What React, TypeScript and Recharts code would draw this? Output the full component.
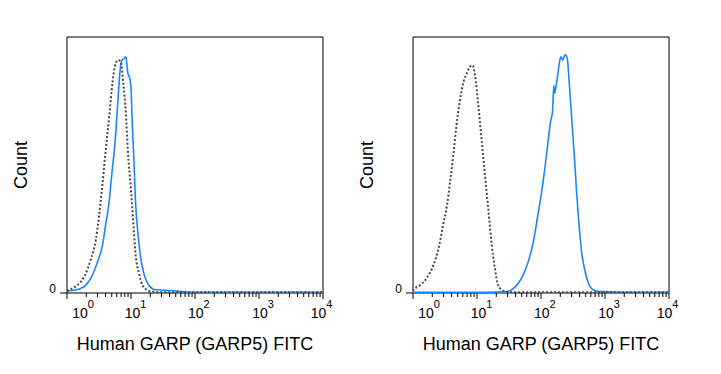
import { LineChart, Line, XAxis, YAxis, ReferenceArea } from "recharts";

const font = '"Liberation Sans", Arial, sans-serif';

const xTitle = "Human GARP (GARP5) FITC";
const yTitle = "Count";
const decades = [0, 1, 2, 3, 4];
const exponents = ["0", "1", "2", "3", "4"];
// nudge so the first/last labels stay inside like the original
const labelShift = [13, 1.5, 0.7, 1, -4.5];

// [log10 FITC, % of max]
const leftIsotype = [
  [0, 0.8], [0.03, 1.2], [0.1, 2.0], [0.16, 3], [0.22, 4.5], [0.27, 6.4], [0.32, 9.3],
  [0.37, 13], [0.45, 20.7], [0.5, 30], [0.55, 41.5], [0.6, 54.6], [0.66, 69], [0.71, 82],
  [0.76, 89.7], [0.8, 91], [0.84, 90.4], [0.88, 82], [0.92, 70], [0.95, 56], [1.0, 40],
  [1.04, 26], [1.07, 15.5], [1.125, 7.7], [1.18, 3], [1.25, 1.2], [1.33, 0.5], [1.5, 0.3],
  [2, 0.3], [3, 0.3], [4, 0.3],
];
const leftStained = [
  [0, 0.8], [0.08, 1.0], [0.16, 1.4], [0.22, 1.9], [0.27, 2.5], [0.32, 3.8], [0.37, 5.7],
  [0.42, 8.3], [0.47, 11.6], [0.51, 14.5], [0.55, 18], [0.6, 26], [0.66, 36], [0.71, 49],
  [0.745, 57], [0.79, 73], [0.83, 87], [0.86, 91], [0.89, 91.5], [0.92, 92.3], [0.95, 86],
  [0.98, 84], [1.0, 80], [1.02, 66], [1.05, 49], [1.07, 36], [1.11, 23], [1.15, 14],
  [1.2, 7.7], [1.24, 4.8], [1.28, 3], [1.36, 1.4], [1.46, 1.2], [1.6, 1.0], [1.67, 0.9],
  [1.83, 0.5], [2.0, 0.3], [2.5, 0.3], [3.0, 0.3], [3.5, 0.3], [4.0, 0.3],
];
const rightIsotype = [
  [0, 0.8], [0.005, 1.2], [0.11, 3], [0.21, 5.7], [0.32, 11], [0.4, 17.5], [0.47, 26.5],
  [0.53, 34], [0.58, 43.5], [0.63, 54], [0.68, 65.6], [0.73, 74.7], [0.79, 82.5],
  [0.84, 85.8], [0.89, 88.4], [0.93, 89], [0.97, 85], [1.02, 73.4], [1.07, 60.4],
  [1.125, 46], [1.18, 31.8], [1.23, 18.8], [1.28, 9.6], [1.33, 3], [1.39, 1.2], [1.46, 0.5],
  [1.6, 0.3], [2, 0.3], [3, 0.3], [4, 0.3],
];
const rightStained = [
  [0, 0.3], [0.5, 0.3], [1.0, 0.3], [1.2, 0.3], [1.36, 0.5], [1.46, 0.5], [1.57, 1.8],
  [1.645, 3.8], [1.72, 7], [1.8, 12.2], [1.88, 20], [1.96, 31.8], [2.01, 39.6], [2.06, 48.7],
  [2.11, 59], [2.15, 67], [2.18, 70.8], [2.2, 81], [2.215, 78], [2.23, 80], [2.255, 84],
  [2.29, 90.4], [2.31, 92.3], [2.34, 91], [2.375, 93], [2.41, 91.7], [2.44, 82.5],
  [2.48, 68], [2.52, 54], [2.56, 38], [2.6, 25], [2.635, 16], [2.69, 8.3], [2.74, 3.8],
  [2.82, 1.2], [2.92, 0.6], [3.05, 0.5], [3.13, 0.4], [3.3, 0.3], [4, 0.3],
];

const minorTicks = [0, 1, 2, 3].flatMap((d) => [2, 3, 4, 5, 6, 7, 8, 9].map((k) => d + Math.log10(k)));
const allTicks = [...decades, ...minorTicks].sort((a, b) => a - b);

const rows = (pts: number[][]) => pts.map(([x, y]) => ({ x, y }));

function XTick({ x, y, payload }: any) {
  const i = decades.indexOf(payload.value);
  if (i < 0) return <line x1={x} x2={x} y1={y} y2={y + 4} stroke="#000" />;
  const cx = x + labelShift[i];
  return (
    <g>
      <line x1={x} x2={x} y1={y} y2={y + 6} stroke="#000" />
      <text x={cx} y={y + 25} textAnchor="middle" fontSize={14} fill="#000">10</text>
      <text x={cx + 7.8} y={y + 15} fontSize={11} fill="#000">{exponents[i]}</text>
    </g>
  );
}

function YTick({ x, y }: any) {
  return <text x={x} y={y} textAnchor="end" fontSize={12} fill="#000">0</text>;
}

function XTitle({ viewBox }: any) {
  const vb = viewBox || { x: 67, y: 293, width: 256 };
  return (
    <text x={vb.x + vb.width / 2} y={vb.y + 57} textAnchor="middle" fontSize={18} fill="#000">
      {xTitle}
    </text>
  );
}

function YTitle({ viewBox }: any) {
  const vb = viewBox || { x: 0, y: 37, height: 256 };
  const cx = vb.x + 27;
  const cy = vb.y + vb.height / 2;
  return (
    <text x={cx} y={cy} transform={`rotate(-90 ${cx} ${cy})`} textAnchor="middle" fontSize={18} fill="#000">
      {yTitle}
    </text>
  );
}

function Panel({ stained, isotype, left }: { stained: number[][]; isotype: number[][]; left: number }) {
  return (
    <div style={{ position: "absolute", left, top: 0 }}>
      <LineChart width={346} height={374} margin={{ top: 37, right: 23, bottom: 0, left: 0 }} style={{ fontFamily: font }}>
        <XAxis
          type="number"
          dataKey="x"
          domain={[0, 4]}
          ticks={allTicks}
          interval={0}
          tick={<XTick />}
          tickLine={false}
          axisLine={false}
          tickSize={0}
          tickMargin={0}
          height={81}
          allowDataOverflow
          label={<XTitle />}
        />
        <YAxis
          type="number"
          domain={[0, 100]}
          ticks={[0]}
          width={67}
          tick={<YTick />}
          tickSize={7}
          tickMargin={4}
          tickLine={{ stroke: "#000" }}
          axisLine={false}
          allowDataOverflow
          label={<YTitle />}
        />
        <ReferenceArea x1={0} x2={4} y1={0} y2={100} fill="#fff" fillOpacity={0} stroke="#000" strokeWidth={1} />
        <Line data={rows(stained)} dataKey="y" type="monotone" stroke="#1c86ff" strokeWidth={1.6} dot={false} isAnimationActive={false} />
        <Line data={rows(isotype)} dataKey="y" type="monotone" stroke="#4a4a4a" strokeWidth={2} strokeDasharray="2 2" dot={false} isAnimationActive={false} />
      </LineChart>
    </div>
  );
}

export default function App() {
  return (
    <div style={{ position: "absolute", left: 0, top: 0, width: 721, height: 374, background: "#fff" }}>
      <Panel stained={leftStained} isotype={leftIsotype} left={0} />
      <Panel stained={rightStained} isotype={rightIsotype} left={346} />
    </div>
  );
}
